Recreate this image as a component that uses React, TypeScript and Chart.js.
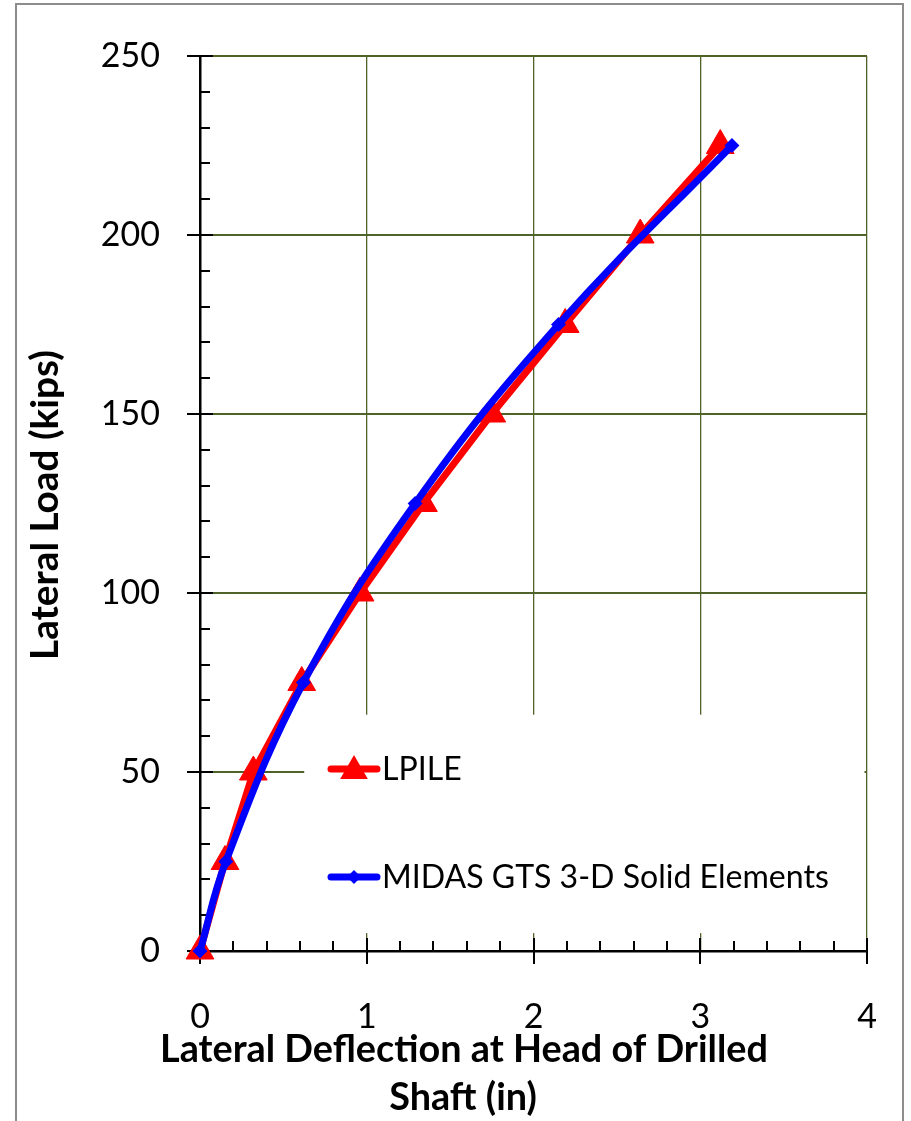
import React, { useEffect, useRef } from 'react';
import { Chart, registerables } from 'chart.js';

Chart.register(...registerables);

// ---- Data ----
const lpileDeflection = [0, 0.15, 0.32, 0.61, 0.96, 1.34, 1.75, 2.19, 2.64, 3.12];
const lpileLoad = [0, 25, 50, 75, 100, 125, 150, 175, 200, 225];
const midasDeflection = [0, 0.155, 0.62, 1.29, 2.15, 3.19];
const midasLoad = [0, 25, 75, 125, 175, 225];
const seriesNames = ['LPILE', 'MIDAS GTS 3-D Solid Elements'];
const xTitleLines = ['Lateral Deflection at Head of Drilled', 'Shaft (in)'];
const yTitle = 'Lateral Load (kips)';
const xRange = [0, 4];
const yRange = [0, 250];
const xMajorStep = 1;
const xMinorStep = 0.2;
const yMajorStep = 50;
const yMinorStep = 10;

const FONT = 'Lato, "Open Sans", sans-serif';
const GRID = '#4f6228';
const RED = '#ff0000';
const BLUE = '#0000ff';

function fitSize(ctx: CanvasRenderingContext2D, text: string, width: number, weight: string) {
  ctx.font = `${weight} 100px ${FONT}`;
  const w = ctx.measureText(text).width;
  return (100 * width) / w;
}

function drawTriangle(ctx: CanvasRenderingContext2D, cx: number, cy: number, r: number) {
  ctx.beginPath();
  ctx.moveTo(cx, cy - r);
  ctx.lineTo(cx + r * 0.866, cy + r * 0.5);
  ctx.lineTo(cx - r * 0.866, cy + r * 0.5);
  ctx.closePath();
  ctx.fill();
}

function drawDiamond(ctx: CanvasRenderingContext2D, cx: number, cy: number, r: number) {
  ctx.beginPath();
  ctx.moveTo(cx, cy - r);
  ctx.lineTo(cx + r, cy);
  ctx.lineTo(cx, cy + r);
  ctx.lineTo(cx - r, cy);
  ctx.closePath();
  ctx.fill();
}

const decorPlugin = {
  id: 'decor',
  beforeDraw(chart: any) {
    const ctx = chart.ctx as CanvasRenderingContext2D;
    ctx.save();
    ctx.fillStyle = '#ffffff';
    ctx.fillRect(0, 0, chart.width, chart.height);
    ctx.strokeStyle = '#8c8c8c';
    ctx.lineWidth = 2;
    ctx.strokeRect(16, 4, 887, 1140);
    ctx.restore();
  },
  beforeDatasetsDraw(chart: any) {
    const ctx = chart.ctx as CanvasRenderingContext2D;
    const xs = chart.scales.x;
    const ys = chart.scales.y;
    const area = chart.chartArea;
    ctx.save();
    // legend background box (covers gridlines)
    const lx0 = xs.getPixelForValue(0.625);
    const lx1 = xs.getPixelForValue(3.985);
    const ly0 = ys.getPixelForValue(66);
    const ly1 = ys.getPixelForValue(5);
    ctx.fillStyle = '#ffffff';
    ctx.fillRect(lx0, ly0, lx1 - lx0, ly1 - ly0);

    // tick marks
    ctx.strokeStyle = '#000000';
    ctx.lineWidth = 2;
    ctx.beginPath();
    const nyMinor = Math.round((yRange[1] - yRange[0]) / yMinorStep);
    for (let i = 0; i <= nyMinor; i++) {
      const v = yRange[0] + i * yMinorStep;
      const p = Math.round(ys.getPixelForValue(v));
      if (Math.abs(v % yMajorStep) < 1e-6) {
        ctx.moveTo(area.left - 13, p);
        ctx.lineTo(area.left + 13, p);
      } else {
        ctx.moveTo(area.left, p);
        ctx.lineTo(area.left + 10, p);
      }
    }
    const nxMinor = Math.round((xRange[1] - xRange[0]) / xMinorStep);
    for (let i = 0; i <= nxMinor; i++) {
      const v = xRange[0] + i * xMinorStep;
      const p = Math.round(xs.getPixelForValue(v));
      const isMajor = Math.abs(v / xMajorStep - Math.round(v / xMajorStep)) < 1e-6;
      if (isMajor) {
        ctx.moveTo(p, area.bottom - 13);
        ctx.lineTo(p, area.bottom + 13);
      } else {
        ctx.moveTo(p, area.bottom);
        ctx.lineTo(p, area.bottom - 10);
      }
    }
    ctx.stroke();
    ctx.restore();
  },
  afterDraw(chart: any) {
    const ctx = chart.ctx as CanvasRenderingContext2D;
    ctx.save();
    ctx.fillStyle = '#000000';
    ctx.textBaseline = 'middle';

    // Legend
    const legendY = [769, 877];
    const lineX0 = 331;
    const lineX1 = 377;
    const markX = 354;
    const textX = 382;
    const legSize = fitSize(ctx, seriesNames[1], 447, 'normal');
    ctx.lineCap = 'round';
    ctx.strokeStyle = RED;
    ctx.lineWidth = 7;
    ctx.beginPath();
    ctx.moveTo(lineX0, legendY[0]);
    ctx.lineTo(lineX1, legendY[0]);
    ctx.stroke();
    ctx.fillStyle = RED;
    drawTriangle(ctx, markX, legendY[0] + 2, 16);
    ctx.strokeStyle = BLUE;
    ctx.beginPath();
    ctx.moveTo(lineX0, legendY[1]);
    ctx.lineTo(lineX1, legendY[1]);
    ctx.stroke();
    ctx.fillStyle = BLUE;
    drawDiamond(ctx, markX, legendY[1], 7);
    ctx.fillStyle = '#000000';
    ctx.font = `normal ${legSize}px ${FONT}`;
    ctx.textAlign = 'left';
    ctx.fillText(seriesNames[0], textX, legendY[0] + 1);
    ctx.fillText(seriesNames[1], textX, legendY[1] + 1);

    // X axis title (two lines)
    const xs = fitSize(ctx, xTitleLines[0], 608, 'bold');
    ctx.font = `bold ${xs}px ${FONT}`;
    ctx.textAlign = 'center';
    ctx.fillText(xTitleLines[0], 464, 1050);
    ctx.fillText(xTitleLines[1], 463, 1098);

    // Y axis title (rotated)
    const ysz = fitSize(ctx, yTitle, 310, 'bold');
    ctx.font = `bold ${ysz}px ${FONT}`;
    ctx.translate(46, 505);
    ctx.rotate(-Math.PI / 2);
    ctx.textAlign = 'center';
    ctx.fillText(yTitle, 0, 0);
    ctx.restore();
  },
};

export default function App() {
  const canvasRef = useRef<HTMLCanvasElement | null>(null);

  useEffect(() => {
    const canvas = canvasRef.current;
    if (!canvas) return;
    const chart = new Chart(canvas, {
      type: 'line',
      data: {
        datasets: [
          {
            label: seriesNames[1],
            data: midasDeflection.map((x, i) => ({ x, y: midasLoad[i] })),
            borderColor: BLUE,
            backgroundColor: BLUE,
            borderWidth: 7,
            pointStyle: 'rectRot',
            pointRadius: 7.5,
            pointBorderWidth: 0,
            pointBackgroundColor: BLUE,
            tension: 0.4,
            clip: false as any,
            order: 0,
          },
          {
            label: seriesNames[0],
            data: lpileDeflection.map((x, i) => ({ x, y: lpileLoad[i] })),
            borderColor: RED,
            backgroundColor: RED,
            borderWidth: 7,
            pointStyle: 'triangle',
            pointRadius: 16,
            pointBorderWidth: 1,
            pointBackgroundColor: RED,
            tension: 0,
            clip: false as any,
            order: 1,
          },
        ],
      },
      options: {
        animation: false,
        responsive: false,
        maintainAspectRatio: false,
        events: [],
        layout: { padding: { left: 0, top: 56, right: 44, bottom: 0 } },
        plugins: {
          legend: { display: false },
          tooltip: { enabled: false },
          title: { display: false },
        },
        scales: {
          x: {
            type: 'linear',
            min: xRange[0],
            max: xRange[1],
            ticks: {
              stepSize: xMajorStep,
              color: '#000000',
              font: { family: FONT, size: 34 },
              padding: 4,
            },
            grid: {
              color: GRID,
              lineWidth: 1.3,
              drawTicks: true,
              tickLength: 42,
              tickColor: 'rgba(0,0,0,0)',
            },
            border: { display: true, color: '#000000', width: 2.5 },
            afterFit: (s: any) => {
              s.height = 170;
            },
          },
          y: {
            type: 'linear',
            min: yRange[0],
            max: yRange[1],
            ticks: {
              stepSize: yMajorStep,
              color: '#000000',
              font: { family: FONT, size: 34 },
              padding: 4,
            },
            grid: {
              color: GRID,
              lineWidth: 2,
              drawTicks: true,
              tickLength: 36,
              tickColor: 'rgba(0,0,0,0)',
            },
            border: { display: true, color: '#000000', width: 2.5 },
            afterFit: (s: any) => {
              s.width = 200;
            },
          },
        },
      },
      plugins: [decorPlugin],
    });
    let alive = true;
    if ((document as any).fonts && (document as any).fonts.ready) {
      (document as any).fonts.ready.then(() => {
        if (alive) chart.update();
      });
    }
    return () => {
      alive = false;
      chart.destroy();
    };
  }, []);

  return (
    <div
      style={{
        position: 'fixed',
        left: 0,
        top: 0,
        width: 911,
        height: 1121,
        background: '#ffffff',
        overflow: 'hidden',
      }}
    >
      <canvas ref={canvasRef} width={911} height={1121} style={{ width: 911, height: 1121, display: 'block' }} />
    </div>
  );
}
